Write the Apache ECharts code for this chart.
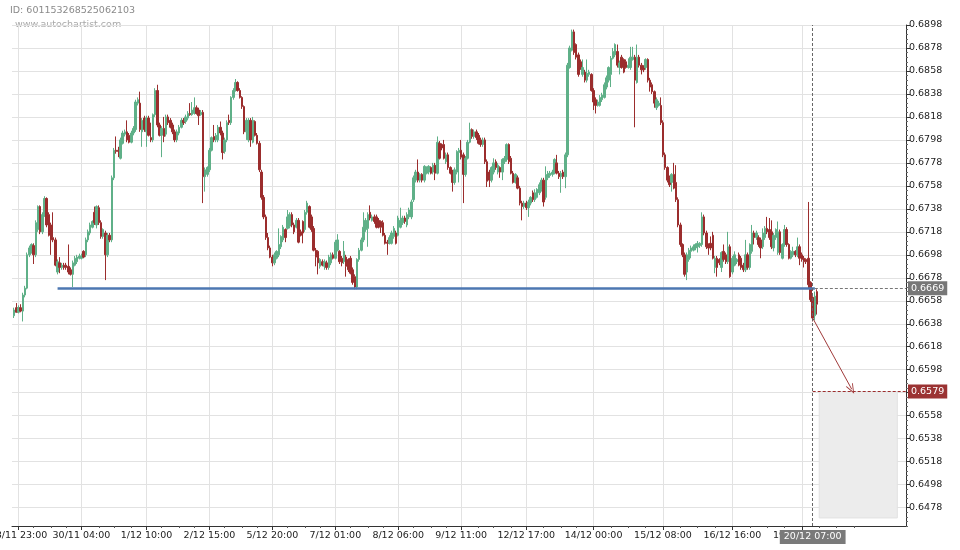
<!DOCTYPE html>
<html><head><meta charset="utf-8">
<script src="https://cdn.jsdelivr.net/npm/echarts@6/dist/echarts.min.js"></script>
<style>html,body{margin:0;padding:0;background:#fff}#c{width:960px;height:550px}</style>
</head><body><div id="c"></div>
<script>
// Hourly candles (slot 1 .. 371), prices
const opens = [
0.6645,0.6652,0.6648,0.6652,0.6649,0.6663,0.6669,0.6698,0.6701,0.6706,
0.6698,0.6720,0.6740,0.6718,0.6733,0.6747,0.6733,0.6724,0.6713,0.6711,
0.6683,0.6691,0.6687,0.6689,0.6689,0.6688,0.6685,0.6681,0.6689,0.6692,
0.6695,0.6695,0.6701,0.6698,0.6711,0.6717,0.6722,0.6735,0.6724,0.6739,
0.6726,0.6714,0.6717,0.6698,0.6715,0.6711,0.6765,0.6789,0.6789,0.6782,
0.6795,0.6803,0.6805,0.6802,0.6796,0.6804,0.6807,0.6830,0.6830,0.6805,
0.6817,0.6805,0.6817,0.6800,0.6798,0.6820,0.6841,0.6811,0.6802,0.6808,
0.6803,0.6818,0.6815,0.6811,0.6805,0.6798,0.6804,0.6809,0.6815,0.6814,
0.6817,0.6821,0.6820,0.6821,0.6826,0.6824,0.6820,0.6822,0.6766,0.6768,
0.6772,0.6789,0.6801,0.6798,0.6798,0.6809,0.6804,0.6788,0.6798,0.6815,
0.6813,0.6835,0.6841,0.6848,0.6841,0.6835,0.6827,0.6805,0.6798,0.6815,
0.6796,0.6814,0.6802,0.6795,0.6770,0.6748,0.6731,0.6713,0.6704,0.6696,
0.6691,0.6695,0.6698,0.6705,0.6711,0.6720,0.6721,0.6723,0.6733,0.6724,
0.6722,0.6728,0.6718,0.6727,0.6720,0.6735,0.6740,0.6731,0.6721,0.6702,
0.6701,0.6688,0.6692,0.6688,0.6691,0.6687,0.6691,0.6698,0.6695,0.6702,
0.6701,0.6695,0.6692,0.6696,0.6694,0.6695,0.6685,0.6679,0.6670,0.6694,
0.6702,0.6711,0.6720,0.6721,0.6735,0.6728,0.6731,0.6731,0.6728,0.6727,
0.6726,0.6715,0.6709,0.6708,0.6708,0.6714,0.6717,0.6715,0.6722,0.6726,
0.6730,0.6724,0.6731,0.6731,0.6746,0.6763,0.6770,0.6763,0.6768,0.6763,
0.6769,0.6770,0.6774,0.6770,0.6776,0.6769,0.6795,0.6794,0.6794,0.6779,
0.6785,0.6774,0.6770,0.6761,0.6770,0.6787,0.6789,0.6785,0.6768,0.6782,
0.6796,0.6807,0.6801,0.6805,0.6802,0.6798,0.6794,0.6798,0.6779,0.6770,
0.6763,0.6770,0.6779,0.6770,0.6774,0.6770,0.6779,0.6781,0.6794,0.6782,
0.6769,0.6761,0.6765,0.6756,0.6743,0.6740,0.6743,0.6739,0.6743,0.6752,
0.6746,0.6748,0.6752,0.6755,0.6763,0.6748,0.6765,0.6767,0.6768,0.6770,
0.6778,0.6769,0.6766,0.6770,0.6766,0.6785,0.6861,0.6876,0.6892,0.6881,
0.6872,0.6866,0.6855,0.6857,0.6850,0.6855,0.6855,0.6841,0.6833,0.6828,
0.6828,0.6833,0.6835,0.6844,0.6850,0.6855,0.6869,0.6872,0.6875,0.6861,
0.6870,0.6868,0.6866,0.6861,0.6861,0.6868,0.6870,0.6848,0.6870,0.6863,
0.6861,0.6861,0.6868,0.6850,0.6846,0.6840,0.6826,0.6828,0.6828,0.6813,
0.6785,0.6774,0.6765,0.6761,0.6768,0.6761,0.6746,0.6724,0.6707,0.6698,
0.6683,0.6694,0.6701,0.6702,0.6704,0.6705,0.6706,0.6707,0.6731,0.6717,
0.6707,0.6708,0.6715,0.6687,0.6695,0.6694,0.6687,0.6701,0.6698,0.6692,
0.6705,0.6683,0.6689,0.6692,0.6698,0.6695,0.6689,0.6685,0.6698,0.6687,
0.6701,0.6717,0.6713,0.6713,0.6711,0.6705,0.6713,0.6721,0.6720,0.6718,
0.6704,0.6713,0.6700,0.6718,0.6695,0.6707,0.6720,0.6707,0.6695,0.6698,
0.6701,0.6698,0.6705,0.6698,0.6695,0.6694,0.6695,0.6674,0.6661,0.6645,
0.6666];
const closes = [
0.6650,0.6648,0.6652,0.6649,0.6663,0.6669,0.6698,0.6704,0.6707,0.6698,
0.6726,0.6740,0.6718,0.6733,0.6747,0.6724,0.6715,0.6711,0.6711,0.6689,
0.6692,0.6687,0.6689,0.6687,0.6687,0.6683,0.6681,0.6691,0.6695,0.6696,
0.6697,0.6697,0.6696,0.6711,0.6718,0.6724,0.6727,0.6726,0.6740,0.6726,
0.6714,0.6720,0.6698,0.6715,0.6711,0.6765,0.6789,0.6788,0.6788,0.6798,
0.6804,0.6805,0.6798,0.6796,0.6804,0.6808,0.6831,0.6833,0.6807,0.6815,
0.6807,0.6817,0.6802,0.6798,0.6820,0.6841,0.6811,0.6802,0.6808,0.6801,
0.6818,0.6813,0.6809,0.6805,0.6798,0.6805,0.6809,0.6815,0.6813,0.6818,
0.6821,0.6820,0.6824,0.6826,0.6821,0.6819,0.6822,0.6766,0.6772,0.6774,
0.6789,0.6800,0.6798,0.6802,0.6809,0.6804,0.6787,0.6798,0.6813,0.6813,
0.6835,0.6841,0.6848,0.6841,0.6835,0.6827,0.6805,0.6815,0.6815,0.6798,
0.6815,0.6802,0.6795,0.6772,0.6748,0.6731,0.6713,0.6704,0.6696,0.6691,
0.6698,0.6701,0.6707,0.6714,0.6722,0.6713,0.6731,0.6733,0.6724,0.6718,
0.6728,0.6709,0.6715,0.6717,0.6735,0.6743,0.6722,0.6720,0.6702,0.6696,
0.6691,0.6694,0.6689,0.6692,0.6687,0.6696,0.6698,0.6695,0.6709,0.6711,
0.6692,0.6691,0.6701,0.6688,0.6685,0.6682,0.6674,0.6670,0.6694,0.6702,
0.6711,0.6722,0.6728,0.6733,0.6730,0.6731,0.6727,0.6722,0.6722,0.6722,
0.6715,0.6708,0.6708,0.6713,0.6717,0.6721,0.6708,0.6730,0.6728,0.6730,
0.6727,0.6733,0.6737,0.6744,0.6765,0.6770,0.6763,0.6768,0.6763,0.6775,
0.6774,0.6775,0.6769,0.6776,0.6769,0.6796,0.6782,0.6791,0.6782,0.6785,
0.6774,0.6769,0.6761,0.6772,0.6788,0.6789,0.6783,0.6768,0.6782,0.6796,
0.6807,0.6801,0.6805,0.6800,0.6795,0.6794,0.6798,0.6779,0.6762,0.6763,
0.6774,0.6778,0.6774,0.6776,0.6770,0.6781,0.6782,0.6794,0.6779,0.6769,
0.6761,0.6768,0.6756,0.6743,0.6740,0.6743,0.6739,0.6744,0.6748,0.6746,
0.6752,0.6755,0.6759,0.6763,0.6744,0.6768,0.6769,0.6769,0.6770,0.6781,
0.6769,0.6766,0.6769,0.6766,0.6785,0.6863,0.6878,0.6892,0.6874,0.6870,
0.6855,0.6861,0.6861,0.6850,0.6856,0.6857,0.6841,0.6831,0.6828,0.6831,
0.6835,0.6837,0.6846,0.6852,0.6861,0.6869,0.6875,0.6881,0.6863,0.6865,
0.6861,0.6857,0.6861,0.6863,0.6870,0.6870,0.6850,0.6870,0.6863,0.6859,
0.6859,0.6868,0.6850,0.6844,0.6840,0.6830,0.6833,0.6830,0.6813,0.6785,
0.6774,0.6763,0.6759,0.6768,0.6756,0.6746,0.6724,0.6707,0.6698,0.6681,
0.6698,0.6702,0.6704,0.6705,0.6707,0.6708,0.6708,0.6731,0.6717,0.6705,
0.6704,0.6704,0.6695,0.6695,0.6687,0.6691,0.6700,0.6694,0.6692,0.6705,
0.6679,0.6695,0.6698,0.6694,0.6689,0.6687,0.6685,0.6698,0.6687,0.6707,
0.6717,0.6713,0.6717,0.6707,0.6704,0.6717,0.6721,0.6718,0.6713,0.6705,
0.6715,0.6720,0.6718,0.6700,0.6707,0.6720,0.6707,0.6695,0.6701,0.6701,
0.6698,0.6705,0.6695,0.6694,0.6692,0.6692,0.6672,0.6659,0.6643,0.6662,
0.6655];
const lows = [
0.6643,0.6648,0.6647,0.6648,0.6640,0.6661,0.6668,0.6696,0.6699,0.6690,
0.6696,0.6718,0.6716,0.6716,0.6731,0.6722,0.6714,0.6698,0.6709,0.6688,
0.6681,0.6682,0.6685,0.6685,0.6685,0.6681,0.6680,0.6670,0.6688,0.6690,
0.6694,0.6694,0.6695,0.6696,0.6709,0.6715,0.6721,0.6724,0.6721,0.6724,
0.6712,0.6712,0.6676,0.6696,0.6709,0.6709,0.6763,0.6786,0.6783,0.6781,
0.6794,0.6801,0.6796,0.6795,0.6795,0.6802,0.6805,0.6828,0.6805,0.6792,
0.6805,0.6792,0.6801,0.6796,0.6796,0.6818,0.6809,0.6801,0.6783,0.6796,
0.6801,0.6811,0.6808,0.6803,0.6796,0.6796,0.6802,0.6808,0.6811,0.6812,
0.6815,0.6819,0.6819,0.6820,0.6820,0.6811,0.6819,0.6743,0.6753,0.6766,
0.6770,0.6788,0.6796,0.6796,0.6796,0.6802,0.6781,0.6786,0.6796,0.6811,
0.6811,0.6833,0.6840,0.6840,0.6834,0.6825,0.6803,0.6798,0.6796,0.6792,
0.6795,0.6801,0.6794,0.6770,0.6746,0.6729,0.6711,0.6702,0.6695,0.6688,
0.6689,0.6694,0.6696,0.6703,0.6709,0.6709,0.6720,0.6721,0.6722,0.6716,
0.6721,0.6708,0.6714,0.6708,0.6718,0.6733,0.6721,0.6718,0.6701,0.6688,
0.6681,0.6686,0.6688,0.6685,0.6685,0.6685,0.6689,0.6694,0.6694,0.6701,
0.6690,0.6688,0.6690,0.6679,0.6683,0.6681,0.6672,0.6668,0.6668,0.6692,
0.6701,0.6709,0.6718,0.6705,0.6728,0.6727,0.6725,0.6721,0.6721,0.6717,
0.6714,0.6707,0.6698,0.6707,0.6707,0.6712,0.6707,0.6714,0.6721,0.6724,
0.6725,0.6722,0.6729,0.6729,0.6744,0.6761,0.6761,0.6761,0.6761,0.6761,
0.6768,0.6768,0.6768,0.6768,0.6763,0.6768,0.6781,0.6789,0.6781,0.6777,
0.6772,0.6768,0.6753,0.6759,0.6768,0.6761,0.6781,0.6743,0.6766,0.6781,
0.6795,0.6799,0.6799,0.6798,0.6794,0.6792,0.6792,0.6777,0.6757,0.6757,
0.6761,0.6768,0.6772,0.6768,0.6765,0.6763,0.6777,0.6779,0.6777,0.6768,
0.6760,0.6760,0.6755,0.6741,0.6728,0.6738,0.6737,0.6731,0.6741,0.6744,
0.6744,0.6747,0.6750,0.6753,0.6740,0.6746,0.6763,0.6765,0.6766,0.6768,
0.6768,0.6764,0.6752,0.6764,0.6756,0.6783,0.6860,0.6875,0.6872,0.6868,
0.6853,0.6859,0.6853,0.6848,0.6848,0.6853,0.6840,0.6824,0.6821,0.6827,
0.6827,0.6831,0.6834,0.6842,0.6848,0.6844,0.6868,0.6870,0.6861,0.6855,
0.6860,0.6856,0.6860,0.6860,0.6859,0.6867,0.6809,0.6847,0.6861,0.6855,
0.6857,0.6859,0.6848,0.6840,0.6838,0.6826,0.6824,0.6827,0.6811,0.6783,
0.6772,0.6761,0.6757,0.6753,0.6755,0.6744,0.6722,0.6705,0.6696,0.6679,
0.6676,0.6692,0.6695,0.6701,0.6702,0.6700,0.6704,0.6705,0.6715,0.6703,
0.6698,0.6702,0.6694,0.6682,0.6679,0.6689,0.6683,0.6692,0.6690,0.6690,
0.6678,0.6681,0.6688,0.6690,0.6688,0.6685,0.6683,0.6683,0.6685,0.6685,
0.6699,0.6707,0.6711,0.6705,0.6695,0.6703,0.6711,0.6716,0.6711,0.6703,
0.6701,0.6711,0.6698,0.6698,0.6694,0.6705,0.6705,0.6694,0.6694,0.6696,
0.6696,0.6696,0.6689,0.6692,0.6687,0.6690,0.6669,0.6657,0.6640,0.6641,
0.6646];
const highs = [
0.6652,0.6656,0.6654,0.6655,0.6665,0.6671,0.6700,0.6706,0.6708,0.6708,
0.6728,0.6741,0.6741,0.6735,0.6749,0.6748,0.6735,0.6726,0.6735,0.6713,
0.6694,0.6696,0.6691,0.6691,0.6691,0.6707,0.6687,0.6693,0.6697,0.6698,
0.6699,0.6699,0.6702,0.6713,0.6720,0.6726,0.6728,0.6740,0.6741,0.6741,
0.6728,0.6721,0.6719,0.6717,0.6717,0.6767,0.6791,0.6801,0.6792,0.6800,
0.6806,0.6807,0.6815,0.6804,0.6806,0.6810,0.6833,0.6835,0.6840,0.6817,
0.6819,0.6819,0.6819,0.6813,0.6821,0.6843,0.6846,0.6813,0.6810,0.6818,
0.6820,0.6820,0.6817,0.6813,0.6807,0.6807,0.6811,0.6817,0.6817,0.6820,
0.6823,0.6830,0.6831,0.6835,0.6828,0.6826,0.6824,0.6824,0.6774,0.6775,
0.6791,0.6801,0.6811,0.6804,0.6811,0.6814,0.6806,0.6800,0.6815,0.6820,
0.6836,0.6843,0.6851,0.6849,0.6843,0.6836,0.6828,0.6817,0.6817,0.6817,
0.6818,0.6815,0.6804,0.6797,0.6772,0.6750,0.6733,0.6717,0.6706,0.6698,
0.6700,0.6702,0.6721,0.6715,0.6724,0.6721,0.6737,0.6735,0.6735,0.6726,
0.6730,0.6730,0.6720,0.6728,0.6737,0.6745,0.6741,0.6733,0.6723,0.6704,
0.6702,0.6695,0.6694,0.6694,0.6693,0.6698,0.6700,0.6700,0.6711,0.6716,
0.6702,0.6697,0.6710,0.6698,0.6695,0.6697,0.6687,0.6681,0.6695,0.6704,
0.6713,0.6735,0.6730,0.6735,0.6741,0.6733,0.6733,0.6733,0.6730,0.6728,
0.6728,0.6717,0.6711,0.6715,0.6719,0.6723,0.6719,0.6732,0.6739,0.6732,
0.6732,0.6735,0.6739,0.6746,0.6767,0.6772,0.6781,0.6769,0.6769,0.6776,
0.6775,0.6776,0.6775,0.6778,0.6778,0.6801,0.6797,0.6795,0.6798,0.6787,
0.6787,0.6775,0.6772,0.6774,0.6789,0.6791,0.6798,0.6787,0.6784,0.6798,
0.6813,0.6808,0.6807,0.6807,0.6804,0.6800,0.6800,0.6800,0.6781,0.6772,
0.6775,0.6782,0.6781,0.6778,0.6775,0.6782,0.6784,0.6795,0.6795,0.6784,
0.6771,0.6769,0.6767,0.6758,0.6745,0.6745,0.6745,0.6746,0.6749,0.6754,
0.6755,0.6756,0.6761,0.6765,0.6765,0.6775,0.6771,0.6771,0.6772,0.6782,
0.6785,0.6771,0.6771,0.6772,0.6787,0.6865,0.6880,0.6894,0.6894,0.6882,
0.6874,0.6868,0.6868,0.6859,0.6868,0.6859,0.6856,0.6843,0.6835,0.6833,
0.6837,0.6839,0.6848,0.6854,0.6862,0.6871,0.6878,0.6882,0.6881,0.6867,
0.6872,0.6869,0.6868,0.6869,0.6879,0.6879,0.6872,0.6881,0.6872,0.6865,
0.6863,0.6869,0.6869,0.6852,0.6848,0.6841,0.6835,0.6832,0.6835,0.6815,
0.6787,0.6775,0.6767,0.6769,0.6778,0.6776,0.6748,0.6726,0.6708,0.6700,
0.6700,0.6704,0.6706,0.6707,0.6708,0.6710,0.6709,0.6735,0.6733,0.6719,
0.6708,0.6714,0.6718,0.6697,0.6697,0.6695,0.6701,0.6707,0.6700,0.6718,
0.6707,0.6697,0.6701,0.6695,0.6700,0.6697,0.6691,0.6711,0.6700,0.6708,
0.6724,0.6719,0.6719,0.6715,0.6713,0.6721,0.6723,0.6731,0.6730,0.6728,
0.6717,0.6721,0.6727,0.6720,0.6708,0.6724,0.6722,0.6708,0.6702,0.6705,
0.6702,0.6713,0.6707,0.6700,0.6697,0.6695,0.6744,0.6675,0.6662,0.6666,
0.6668];

const slotCount = 413;        // hourly slots on the axis (incl. future area)
const firstCandleSlot = 1;
const tickSlots  = [3, 32, 62, 91, 120, 149, 178, 207, 237, 268, 300, 332, 364];
const tickLabels = ['28/11 23:00','30/11 04:00','1/12 10:00','2/12 15:00','5/12 20:00','7/12 01:00',
                    '8/12 06:00','9/12 11:00','12/12 17:00','14/12 00:00','15/12 08:00','16/12 16:00','19/12 23:00'];
const yTickValues = [0.6478,0.6498,0.6518,0.6538,0.6558,0.6578,0.6598,0.6618,0.6638,0.6658,0.6678,
                     0.6698,0.6718,0.6738,0.6758,0.6778,0.6798,0.6818,0.6838,0.6858,0.6878,0.6898];
const supportLevel = 0.6669, supportFromSlot = 21, supportToSlot = 370;
const targetLevel = 0.6579;
const nowSlot = 369, nowLabel = '20/12 07:00';
const arrowFrom = [369, 0.6643], arrowTo = [387, 0.6581];
const forecastFromSlot = 372, forecastToSlot = 408, forecastLow = 0.6469;

const FONT = 'DejaVu Sans';
const GREEN = '#5fb088', RED = '#9b2d2d';

const slots = Array.from({length: slotCount}, (_, i) => String(i));
const labelBySlot = {};
tickSlots.forEach((s, k) => labelBySlot[s] = tickLabels[k]);
const minorSlots = new Set();
for (let k = 0; k < tickSlots.length - 1; k++) {
  const a = tickSlots[k], b = tickSlots[k + 1];
  for (let q = 1; q < 4; q++) minorSlots.add(Math.round(a + (b - a) * q / 4));
}
[372, 380, 388].forEach(s => minorSlots.add(s));
const yMinor = [];
for (let j = -4; j <= 105; j++) if (j % 5 !== 0) yMinor.push(+((6478 + 4 * j) / 10000).toFixed(4));

const candles = [];
for (let i = 0; i < firstCandleSlot; i++) candles.push('-');
opens.forEach((o, k) => {
  const v = [o, closes[k], lows[k], highs[k]];
  if (k === opens.length - 1) candles.push({value: v, itemStyle: {color0: '#e9c9c9', borderColor0: RED}});
  else candles.push(v);
});

const chart = echarts.init(document.getElementById('c'), null, {renderer: 'canvas'});
chart.setOption({
  animation: false,
  backgroundColor: '#fff',
  graphic: [
    {type: 'text', left: 10, top: 6, style: {text: 'ID: 601153268525062103', fill: '#8a8a8a', font: '9.5px "DejaVu Sans"'}},
    {type: 'text', left: 15, top: 20, style: {text: 'www.autochartist.com', fill: '#a8a8a8', font: '9.5px "DejaVu Sans"'}}
  ],
  grid: {left: 12, right: 54, top: 25, bottom: 24, containLabel: false, outerBoundsMode: 'none'},
  xAxis: [{
    type: 'category', data: slots, boundaryGap: false,
    axisLine: {lineStyle: {color: '#333', width: 1}},
    axisTick: {show: true, length: 4, interval: (i) => labelBySlot[i] !== undefined, lineStyle: {color: '#333'}},
    axisLabel: {interval: (i) => labelBySlot[i] !== undefined, formatter: (v) => labelBySlot[+v] || '',
      fontFamily: FONT, fontSize: 9.5, color: '#222', margin: 5, hideOverlap: false},
    splitLine: {show: true, interval: (i) => labelBySlot[i] !== undefined, lineStyle: {color: '#e2e2e2', width: 1}}
  }, {
    type: 'category', data: slots, boundaryGap: false, position: 'bottom',
    axisLine: {show: false},
    axisTick: {show: true, length: 2, interval: (i) => minorSlots.has(i), lineStyle: {color: '#555'}},
    axisLabel: {show: false}, splitLine: {show: false}
  }],
  yAxis: [{
    type: 'value', position: 'right', min: 0.6462, max: 0.6898, scale: true,
    axisLine: {show: true, lineStyle: {color: '#333', width: 1}},
    axisTick: {show: true, length: 4, customValues: yTickValues, lineStyle: {color: '#333'}},
    axisLabel: {customValues: yTickValues, formatter: (v) => v.toFixed(4), fontFamily: FONT, fontSize: 9.5, color: '#222', margin: 3},
    splitLine: {show: true, lineStyle: {color: '#e2e2e2', width: 1}}
  }, {
    type: 'value', position: 'right', min: 0.6462, max: 0.6898, scale: true,
    axisLine: {show: false},
    axisTick: {show: true, length: 2, customValues: yMinor, lineStyle: {color: '#666'}},
    axisLabel: {show: false}, splitLine: {show: false}
  }],
  series: [{
    type: 'candlestick', xAxisIndex: 0, yAxisIndex: 0,
    data: candles, barWidth: 2,
    itemStyle: {color: GREEN, color0: RED, borderColor: GREEN, borderColor0: RED, borderWidth: 1},
    markArea: {
      silent: true,
      itemStyle: {color: '#ececec', borderColor: '#e2e2e2', borderWidth: 1},
      data: [[{coord: [forecastFromSlot, targetLevel]}, {coord: [forecastToSlot, forecastLow]}]]
    },
    markLine: {
      silent: true, symbol: 'none', animation: false,
      data: [
        [{coord: [supportFromSlot, supportLevel], lineStyle: {color: '#4d77b2', width: 2.5, type: 'solid'}, label: {show: false}},
         {coord: [supportToSlot, supportLevel]}],
        [{coord: [supportToSlot, supportLevel], lineStyle: {color: '#777', width: 1, type: [3, 2]},
          label: {show: true, position: 'end', formatter: supportLevel.toFixed(4), distance: 2, backgroundColor: '#777',
            color: '#fff', fontFamily: FONT, fontSize: 9.5, padding: [2, 3, 2, 3]}},
         {coord: [slotCount - 1, supportLevel]}],
        [{coord: [nowSlot, targetLevel], lineStyle: {color: '#9b2d2d', width: 1, type: [3, 2]},
          label: {show: true, position: 'end', formatter: targetLevel.toFixed(4), distance: 2, backgroundColor: '#9b3333',
            color: '#fff', fontFamily: FONT, fontSize: 9.5, padding: [2, 3, 2, 3]}},
         {coord: [slotCount - 1, targetLevel]}],
        {xAxis: nowSlot, lineStyle: {color: '#666', width: 1, type: [3, 2]},
          label: {show: true, position: 'start', formatter: nowLabel, distance: 4, backgroundColor: '#7a7a7a',
            color: '#fff', fontFamily: FONT, fontSize: 9.5, padding: [2, 4, 2, 4]}},
        [{coord: arrowFrom, symbol: 'none', lineStyle: {color: '#a03a3a', width: 1, type: 'solid'}, label: {show: false}},
         {coord: arrowTo, symbol: 'path://M5,0L10,10L8.8,10L5,2.4L1.2,10L0,10Z', symbolSize: [8, 10]}]
      ]
    }
  }]
});
</script></body></html>
